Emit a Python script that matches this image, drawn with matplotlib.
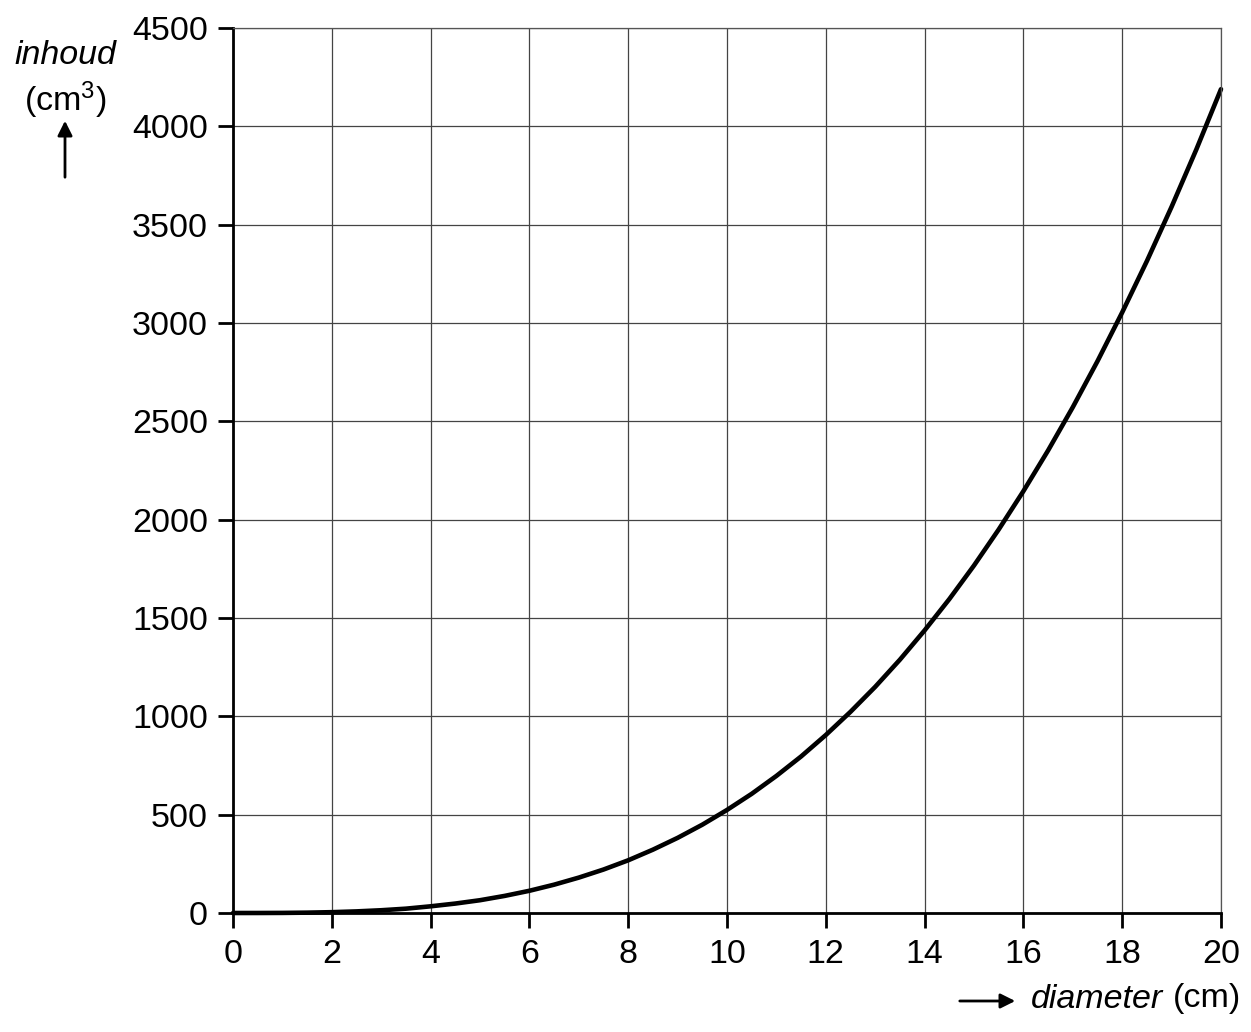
import matplotlib
matplotlib.use("Agg")
import matplotlib.pyplot as plt
from matplotlib.patches import FancyArrowPatch

diameter = [0, 0.5, 1, 1.5, 2, 2.5, 3, 3.5, 4, 4.5, 5, 5.5, 6, 6.5, 7, 7.5, 8, 8.5, 9, 9.5, 10,
            10.5, 11, 11.5, 12, 12.5, 13, 13.5, 14, 14.5, 15, 15.5, 16, 16.5, 17, 17.5, 18,
            18.5, 19, 19.5, 20]
inhoud = [0, 0.07, 0.5, 1.8, 4.2, 8.2, 14, 22, 34, 48, 65, 87, 113, 144, 180, 221, 268, 322,
          382, 449, 524, 606, 697, 796, 905, 1023, 1150, 1288, 1437, 1596, 1767, 1950, 2145,
          2352, 2572, 2806, 3054, 3315, 3591, 3882, 4189]
x_ticks = list(range(0, 21, 2))
y_ticks = list(range(0, 4501, 500))

plt.rcParams['font.family'] = ['Liberation Sans', 'DejaVu Sans']
plt.rcParams['mathtext.fontset'] = 'custom'
plt.rcParams['mathtext.rm'] = 'Liberation Sans'
plt.rcParams['mathtext.it'] = 'Liberation Sans:italic'

FS = 24.5

fig = plt.figure(figsize=(12.51, 10.32), dpi=100)
ax = fig.add_axes([233/1251, 1 - 913/1032, (1221-233)/1251, (913-28)/1032])

ax.set_xlim(0, 20)
ax.set_ylim(0, 4500)
ax.set_xticks(x_ticks)
ax.set_yticks(y_ticks)
ax.grid(True, color='#444444', linewidth=0.9)
ax.set_axisbelow(True)

for s in ['top', 'right']:
    ax.spines[s].set_color('#555555')
    ax.spines[s].set_linewidth(0.9)
for s in ['left', 'bottom']:
    ax.spines[s].set_color('black')
    ax.spines[s].set_linewidth(2.0)

ax.tick_params(axis='both', direction='out', length=11, width=2.0, labelsize=FS,
               colors='black')
ax.tick_params(axis='x', pad=8)
ax.tick_params(axis='y', pad=7)

ax.plot(diameter, inhoud, color='black', linewidth=3.3, solid_capstyle='round', clip_on=False)

# y-axis label
fig.text(65/1251, 1 - 55/1032, 'inhoud', fontsize=FS, style='italic', ha='center', va='center')
fig.text(65/1251, 1 - 100/1032, r'(cm$^{3}$)', fontsize=FS, ha='center', va='center')
fig.patches.append(FancyArrowPatch(
    (65/1251, 1 - 180/1032), (65/1251, 1 - 118/1032), transform=fig.transFigure,
    arrowstyle='-|>', mutation_scale=22, color='black', linewidth=2.0))

# x-axis label
fig.text(1241/1251, 1 - 999/1032, '(cm)', fontsize=FS, ha='right', va='center')
fig.text(1163/1251, 1 - 999/1032, 'diameter', fontsize=FS, style='italic', ha='right', va='center')
fig.patches.append(FancyArrowPatch(
    (957/1251, 1 - 1001/1032), (1018/1251, 1 - 1001/1032), transform=fig.transFigure,
    arrowstyle='-|>', mutation_scale=22, color='black', linewidth=2.0))

fig.savefig('out.png', dpi=100, facecolor='white')
